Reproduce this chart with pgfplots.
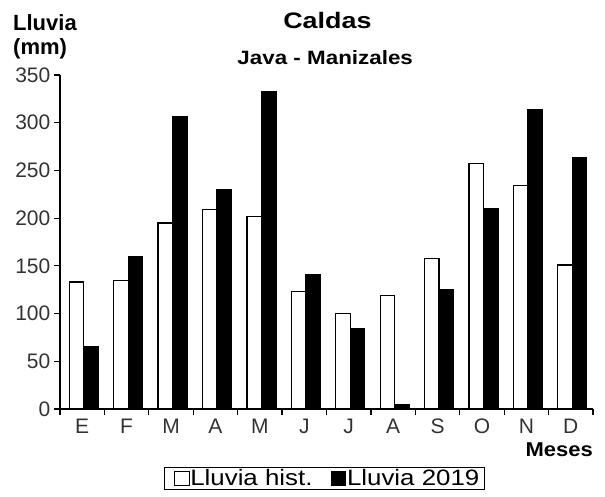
\documentclass[border=0pt]{standalone}
\usepackage{pgfplots}
\pgfplotsset{compat=1.18}
\usepackage{pgfplotstable}
\usepackage{fontspec}
\setmainfont{Liberation Sans}
% the reference sets titles and legend in a slightly wide face
\newfontfamily\fcaldas[FakeStretch=1.2]{Liberation Sans}
\newfontfamily\fjava[FakeStretch=1.16]{Liberation Sans}
\newfontfamily\fmeses[FakeStretch=1.1]{Liberation Sans}
\newfontfamily\fley[FakeStretch=1.16]{Liberation Sans}

% lluvia mensual (mm), Java - Manizales
\pgfplotstableread{
mes hist lluvia
0  133  65
1  135 160
2  195 306
3  209 230
4  202 333
5  123 141
6  100  84
7  119   5
8  158 125
9  257 210
10 234 314
11 151 263
}\datos

\pgfplotsset{
  cuadro/.style={legend image code/.code={
    \path (0pt,0pt);
    \draw[##1, line width=0.8pt] (5pt,-7pt) rectangle (19.5pt,7.5pt);}},
}

\begin{document}
\begin{tikzpicture}
\useasboundingbox (0pt,0pt) rectangle (605pt,-496pt);
\begin{axis}[
  at={(60pt,-409pt)}, anchor=south west,
  scale only axis,
  width=533pt, height=334pt,
  clip mode=individual,
  xmin=-0.5, xmax=11.5,
  ymin=0, ymax=350,
  axis x line=bottom, axis y line=left,
  axis line style={-, line width=1.2pt},
  tick style={black, line width=1.2pt},
  tick align=outside,
  major tick length=6pt, minor tick length=6pt,
  xtick={0,...,11},
  xticklabels={E,F,M,A,M,J,J,A,S,O,N,D},
  major x tick style={draw=none},
  minor xtick={-0.5,0.5,...,11.5},
  ytick={0,50,...,350},
  /pgf/number format/assume math mode=true,
  ticklabel style={font=\fontsize{21}{25}\selectfont, text=black!80},
  xticklabel style={anchor=base, inner sep=0pt, yshift=-18pt},
  yticklabel style={anchor=east, inner sep=0pt, xshift=-3.5pt},
  xlabel={Meses},
  xlabel style={at={(axis description cs:1,-0.1407)}, anchor=base east,
    inner sep=0pt, font=\fmeses\bfseries\fontsize{20}{24}\selectfont},
  ylabel={Lluvia\\(mm)},
  ylabel style={rotate=-90, at={(axis description cs:-0.0882,1.1826)},
    anchor=north west, inner sep=0pt, align=left,
    font=\bfseries\fontsize{22}{24.5}\selectfont},
  legend style={at={(axis description cs:0.4964,-0.208)}, anchor=center,
    draw=black, line width=1pt, font=\fley\fontsize{22.3}{27}\selectfont,
    legend columns=2, inner xsep=4pt, inner ysep=1pt,
    nodes={inner sep=1pt},
    /tikz/every even column/.append style={column sep=12pt}},
]
\addplot[ybar, bar width=14.5pt, bar shift=-5.7pt, draw=black, fill=white,
  line width=1.2pt, cuadro] table[x=mes, y=hist] {\datos};
\addlegendentry{Lluvia hist.}
\addplot[ybar, bar width=14.5pt, bar shift=8.8pt, draw=black, fill=black,
  line width=1.2pt, cuadro] table[x=mes, y=lluvia] {\datos};
\addlegendentry{Lluvia 2019}
% title and subtitle
\node[anchor=base, inner sep=0pt, font=\fcaldas\bfseries\fontsize{22.4}{27}\selectfont]
  at (axis description cs:0.5017,1.1398) {Caldas};
\node[anchor=base, inner sep=0pt, font=\fjava\bfseries\fontsize{19.3}{23}\selectfont]
  at (axis description cs:0.4976,1.0329) {Java - Manizales};
\end{axis}
\end{tikzpicture}
\end{document}
